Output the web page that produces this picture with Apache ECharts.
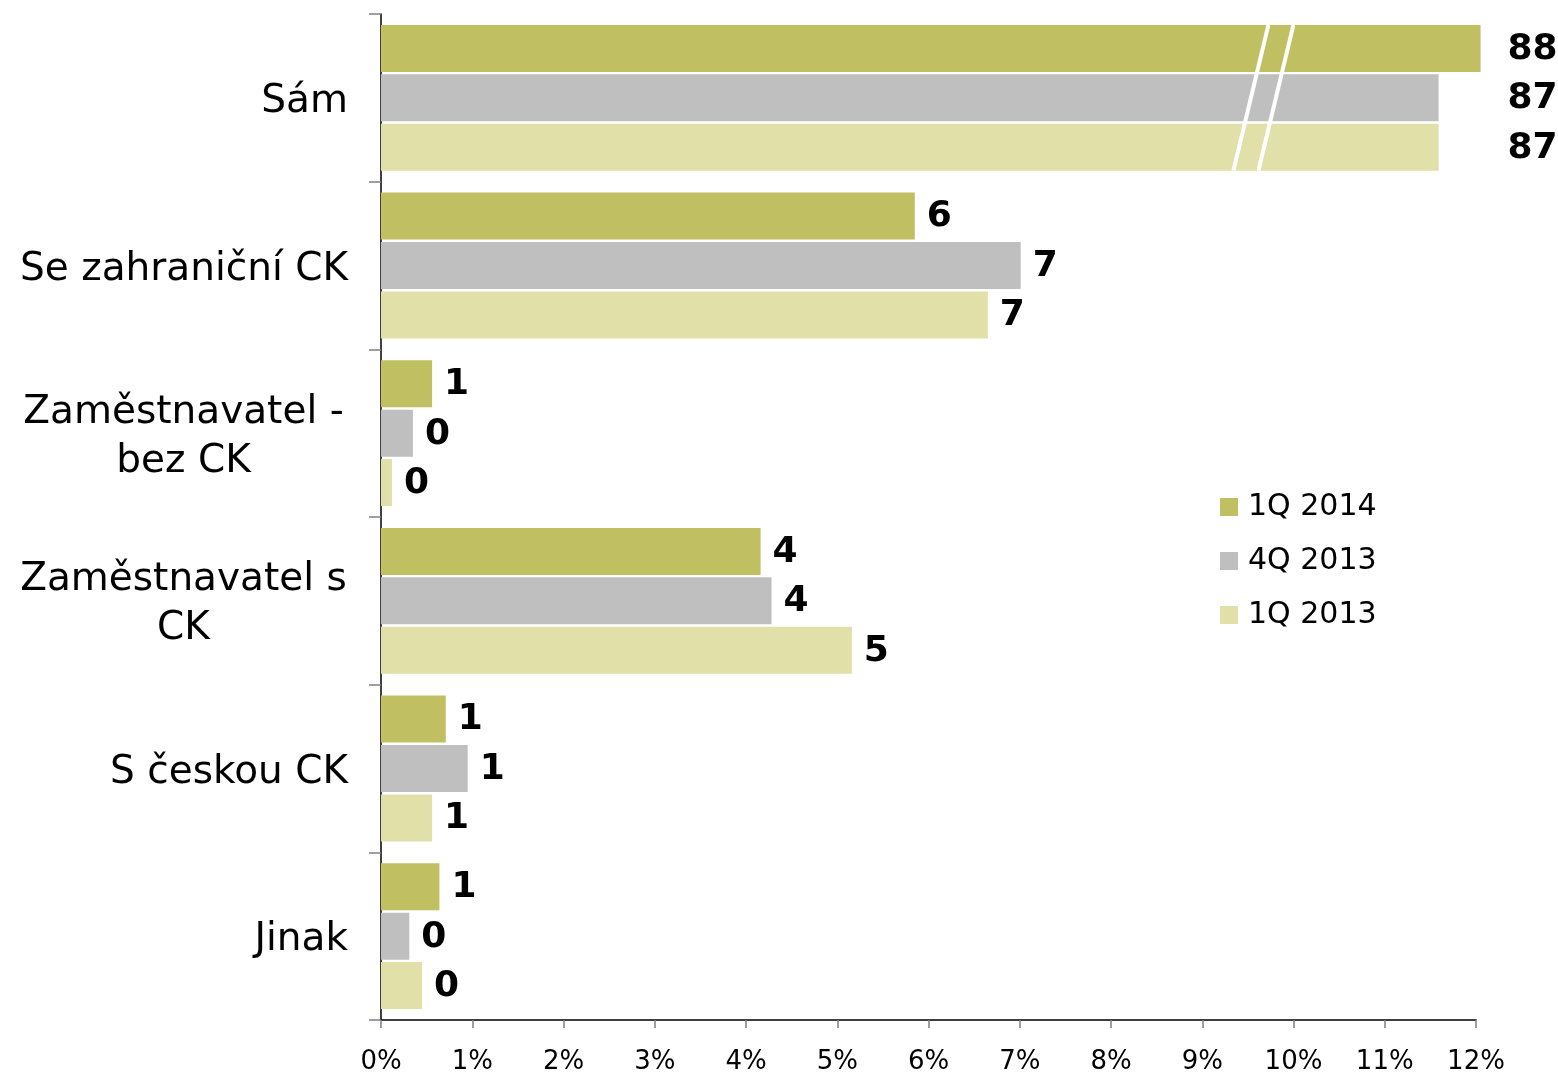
<!DOCTYPE html>
<html>
<head>
<meta charset="utf-8">
<script src="https://cdn.jsdelivr.net/npm/echarts@6/dist/echarts.min.js"></script>
<style>
html,body{margin:0;padding:0;background:#fff;}
#chart{width:1558px;height:1072px;}
</style>
</head>
<body>
<div id="chart"></div>
<script>
// ---- data ----
const categories = ['Sám', 'Se zahraniční CK', 'Zaměstnavatel -\nbez CK', 'Zaměstnavatel s\nCK', 'S českou CK', 'Jinak'];
const seriesNames = ['1Q 2014', '4Q 2013', '1Q 2013'];
const values1Q2014 = [87.6, 5.85, 0.56, 4.16, 0.71, 0.64];
const values4Q2013 = [87.14, 7.01, 0.35, 4.28, 0.95, 0.31];
const values1Q2013 = [87.14, 6.65, 0.12, 5.16, 0.56, 0.45];
const xTicks = {min: 0, max: 12, interval: 1};
// axis break: values above the axis end are drawn shortened by this amount
const BREAK_OFFSET = 75.55;
const BREAK_AT = 9.67;

const colors = ['#C0BF62', '#BFBFBF', '#E1E0A8'];
const FONT = '"DejaVu Sans", Verdana, sans-serif';
const GRID = {left: 381, right: 82, top: 14, bottom: 52, outerBoundsMode: 'none'};
const BAR_W = 47, BAR_GAP = 2.4;
const CAT_FS = 39;
const pxPerUnit = (1558 - GRID.left - GRID.right) / (xTicks.max - xTicks.min);

function plotted(v) { return v > xTicks.max ? v - BREAK_OFFSET : v; }
const allSeries = [values1Q2014, values4Q2013, values1Q2013];
let maxBroken = 0;
allSeries.forEach(arr => arr.forEach(v => { if (v > xTicks.max) maxBroken = Math.max(maxBroken, plotted(v)); }));

// measure for centered multi-line category labels
const ctx = document.createElement('canvas').getContext('2d');
ctx.font = CAT_FS + 'px ' + FONT;
function lineW(s) { return ctx.measureText(s).width; }

const barSeries = allSeries.map((arr, si) => ({
  name: seriesNames[si],
  type: 'bar',
  barWidth: BAR_W,
  barGap: (BAR_GAP / BAR_W * 100) + '%',
  clip: false,
  itemStyle: {color: colors[si]},
  data: arr.map(v => {
    const p = plotted(v);
    const item = {value: p, real: v};
    if (v > xTicks.max) {
      item.label = {distance: 27 + (maxBroken - p) * pxPerUnit};
    }
    return item;
  }),
  label: {
    show: true,
    position: 'right',
    distance: 12,
    fontFamily: FONT,
    fontWeight: 'bold',
    fontSize: 36,
    color: '#000',
    offset: [0, 1],
    formatter: p => String(Math.round(p.data.real))
  }
}));

const breakSeries = {
  type: 'custom',
  silent: true,
  z: 10,
  data: allSeries[0].map((v, i) => v > xTicks.max ? [BREAK_AT, i] : null).filter(d => d),
  renderItem: function (params, api) {
    const c = api.coord([api.value(0), api.value(1)]);
    const h = (3 * BAR_W + 2 * BAR_GAP) / 2;
    const slant = 17.5;
    const sep = 12.5;
    const children = [-sep, sep].map(dx => ({
      type: 'line',
      shape: {x1: c[0] + dx + slant, y1: c[1] - h, x2: c[0] + dx - slant, y2: c[1] + h},
      style: {stroke: '#fff', lineWidth: 4}
    }));
    return {type: 'group', children};
  }
};

const chart = echarts.init(document.getElementById('chart'));
chart.setOption({
  animation: false,
  backgroundColor: '#fff',
  grid: GRID,
  legend: {
    orient: 'vertical',
    left: 1220,
    top: 492,
    padding: 0,
    itemWidth: 18,
    itemHeight: 18,
    itemGap: 24,
    icon: 'rect',
    data: seriesNames,
    textStyle: {fontFamily: FONT, fontSize: 30, color: '#000', padding: [0, 0, 0, 5]}
  },
  xAxis: {
    type: 'value',
    min: xTicks.min,
    max: xTicks.max,
    interval: xTicks.interval,
    splitLine: {show: false},
    axisLine: {show: true, lineStyle: {color: '#000', width: 1.5}},
    axisTick: {show: true, length: 8, lineStyle: {color: '#808080', width: 1.5}},
    axisLabel: {formatter: '{value}%', fontFamily: FONT, fontSize: 26, color: '#000', margin: 29}
  },
  yAxis: {
    type: 'category',
    inverse: true,
    data: categories,
    axisLine: {show: true, lineStyle: {color: '#000', width: 1.5}},
    axisTick: {show: true, length: 12, lineStyle: {color: '#808080', width: 1.5}},
    axisLabel: {
      fontFamily: FONT,
      fontSize: CAT_FS,
      color: '#000',
      margin: 33,
      lineHeight: 49,
      padding: [8, 0, 0, 0],
      formatter: function (val) {
        if (val.indexOf('\n') < 0) return val;
        return val.split('\n').map(l => '{c|' + l + '}').join('\n');
      },
      rich: {
        c: {fontFamily: FONT, fontSize: CAT_FS, color: '#000', lineHeight: 49, align: 'center', width: Math.ceil(lineW('Zaměstnavatel s')) + 2}
      }
    }
  },
  series: barSeries.concat([breakSeries])
});
</script>
</body>
</html>
